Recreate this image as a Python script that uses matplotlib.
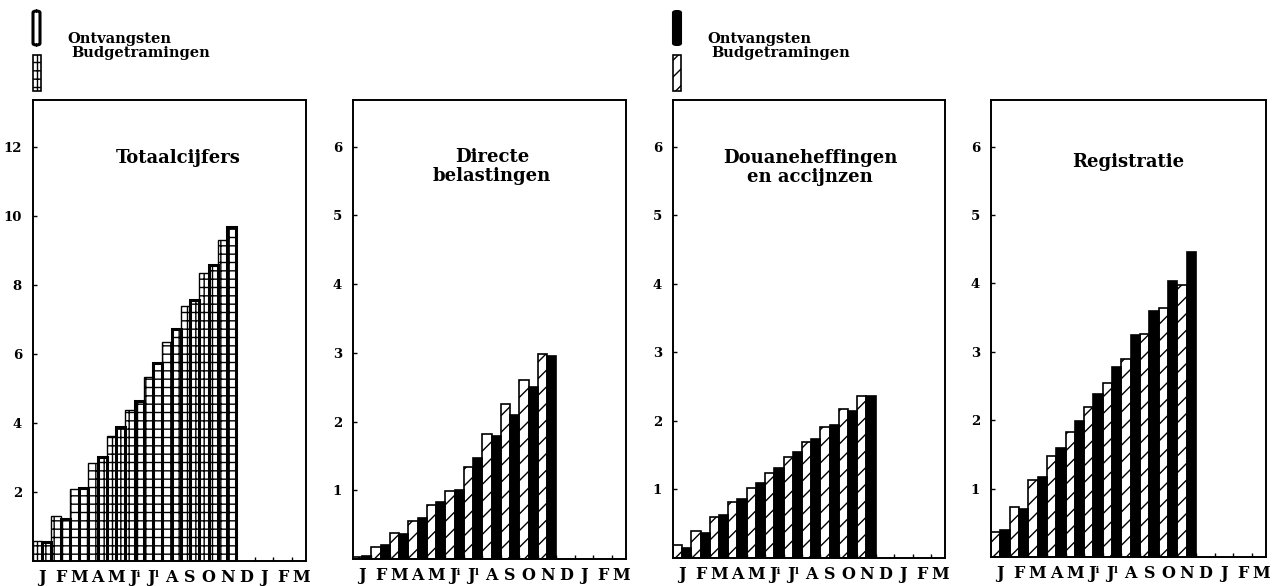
import matplotlib
matplotlib.use("Agg")
import matplotlib.pyplot as plt
from matplotlib.patches import Rectangle, FancyBboxPatch

# month labels (Jun / Jul written as J with small superscript)
months = ["J", "F", "M", "A", "M", "J\u2071", "J\u02e1",
          "A", "S", "O", "N", "D", "J", "F", "M"]

# values (Jan .. Nov, cumulative)
totaal_budget = [0.58, 1.30, 2.08, 2.83, 3.62, 4.39, 5.32, 6.36, 7.40, 8.34, 9.29]
totaal_ontv = [0.55, 1.21, 2.12, 3.00, 3.87, 4.64, 5.73, 6.72, 7.55, 8.59, 9.67]
directe_budget = [0.03, 0.17, 0.38, 0.56, 0.79, 0.99, 1.34, 1.82, 2.26, 2.60, 2.99]
directe_ontv = [0.04, 0.21, 0.36, 0.60, 0.83, 1.01, 1.47, 1.79, 2.10, 2.50, 2.95]
douane_budget = [0.19, 0.39, 0.60, 0.81, 1.02, 1.24, 1.47, 1.69, 1.91, 2.17, 2.37]
douane_ontv = [0.15, 0.37, 0.62, 0.86, 1.09, 1.31, 1.54, 1.73, 1.94, 2.14, 2.36]
registratie_budget = [0.36, 0.73, 1.12, 1.48, 1.83, 2.19, 2.55, 2.89, 3.26, 3.64, 3.97]
registratie_ontv = [0.39, 0.70, 1.17, 1.60, 1.99, 2.38, 2.77, 3.24, 3.60, 4.03, 4.46]

titles = ["Totaalcijfers", "Directe\nbelastingen", "Douaneheffingen\nen accijnzen", "Registratie"]
yticks_tot = [2, 4, 6, 8, 10, 12]
yticks_sub = [1, 2, 3, 4, 5, 6]

W, H = 1277, 586
plt.rcParams['font.family'] = ['DejaVu Serif', 'DejaVu Sans']
plt.rcParams['font.weight'] = 'bold'
plt.rcParams['hatch.linewidth'] = 1.0

fig = plt.figure(figsize=(W / 100.0, H / 100.0), dpi=100)
fig.patch.set_facecolor('white')

# panel frames in pixels: left, right, top, bottom
frames = [(33, 306, 100, 561), (353, 626, 100, 559), (673, 945, 100, 558), (991, 1266, 100, 557)]
series = [(totaal_budget, totaal_ontv), (directe_budget, directe_ontv),
          (douane_budget, douane_ontv), (registratie_budget, registratie_ontv)]
title_y = [0.875, 0.855, 0.853, 0.865]
title_x = [0.53, 0.51, 0.505, 0.5]

for k in range(4):
    l, r, t, b = frames[k]
    ax = fig.add_axes([l / W, 1 - b / H, (r - l) / W, (b - t) / H])
    budget, ontv = series[k]
    n = len(budget)
    xb = [i + 0.25 for i in range(n)]
    xo = [i + 0.75 for i in range(n)]
    if k == 0:
        ax.bar(xb, budget, width=0.5, facecolor='white', edgecolor='black',
               hatch='++', linewidth=1.0)
        ax.bar(xo, ontv, width=0.5, facecolor='white', edgecolor='black',
               hatch='++', linewidth=2.2)
        ax.set_ylim(0, 13.36)
        ax.set_yticks(yticks_tot)
        ax.set_yticklabels([str(v) for v in yticks_tot])
    else:
        ax.bar(xb, budget, width=0.5, facecolor='white', edgecolor='black',
               hatch='//', linewidth=1.2)
        ax.bar(xo, ontv, width=0.5, facecolor='black', edgecolor='black', linewidth=1.2)
        ax.set_ylim(0, 6.68)
        ax.set_yticks(yticks_sub)
        ax.set_yticklabels([str(v) for v in yticks_sub])
    ax.set_xlim(0, 14.76)
    ax.set_xticks([i + 0.5 for i in range(len(months))])
    ax.set_xticklabels(months)
    ax.set_xticks(range(1, 15), minor=True)
    ax.tick_params(axis='x', which='major', length=0, pad=6, labelsize=11.5)
    ax.tick_params(axis='x', which='minor', direction='in', length=3, width=1)
    ax.tick_params(axis='y', direction='in', length=3, width=1, pad=8, labelsize=9.5)
    for s in ax.spines.values():
        s.set_linewidth(1.4)
    ax.text(title_x[k], title_y[k], titles[k], transform=ax.transAxes, ha='center',
            va='center', fontsize=13, fontweight='bold', linespacing=1.05)


def px_rect(x0, y0, x1, y1, **kw):
    # rectangle given in figure pixels (y measured from top)
    return Rectangle((x0 / W, 1 - y1 / H), (x1 - x0) / W, (y1 - y0) / H,
                     transform=fig.transFigure, **kw)


# legend, left pair
fig.add_artist(FancyBboxPatch((33 / W, 1 - 45 / H), 7 / W, 34 / H,
                              boxstyle='round,pad=0,rounding_size=0.003',
                              transform=fig.transFigure, facecolor='white',
                              edgecolor='black', linewidth=2.2))
fig.add_artist(px_rect(33, 55, 41, 91, facecolor='white', edgecolor='black',
                       hatch='++', linewidth=1.2))
fig.text(67 / W, 1 - 39 / H, "Ontvangsten", fontsize=10.5, fontweight='bold', va='center')
fig.text(71 / W, 1 - 53 / H, "Budgetramingen", fontsize=10.5, fontweight='bold', va='center')

# legend, right pair
fig.add_artist(FancyBboxPatch((673 / W, 1 - 45 / H), 8 / W, 34 / H,
                              boxstyle='round,pad=0,rounding_size=0.003',
                              transform=fig.transFigure, facecolor='black',
                              edgecolor='black', linewidth=1.5))
fig.add_artist(px_rect(673, 55, 681, 91, facecolor='white', edgecolor='black',
                       hatch='//', linewidth=1.2))
fig.text(707 / W, 1 - 39 / H, "Ontvangsten", fontsize=10.5, fontweight='bold', va='center')
fig.text(711 / W, 1 - 53 / H, "Budgetramingen", fontsize=10.5, fontweight='bold', va='center')

plt.savefig("out.png", dpi=100)
